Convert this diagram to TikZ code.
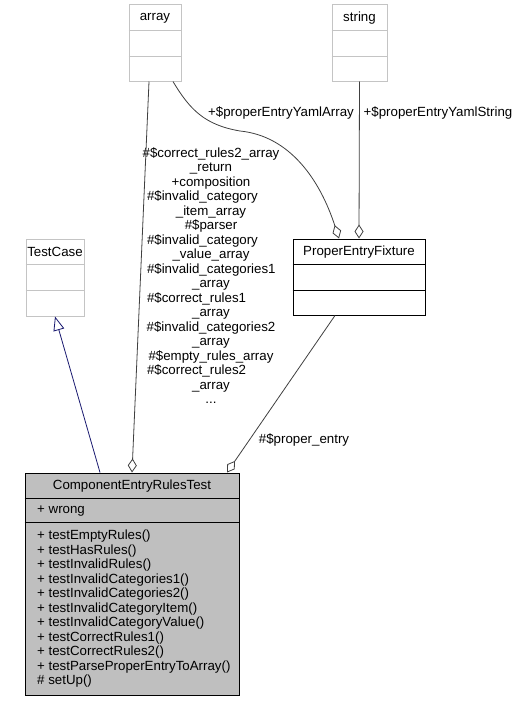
\documentclass[tikz,border=0pt]{standalone}
\usepackage{fontspec}
\setmainfont{Liberation Sans}
\usetikzlibrary{arrows.meta}
\definecolor{edgegray}{HTML}{404040}
\definecolor{boxgray}{HTML}{BFBFBF}
\definecolor{extgray}{HTML}{C4C4C4}
\definecolor{navyblue}{HTML}{191970}
\begin{document}
\begin{tikzpicture}[x=1pt,y=-1pt,
  font=\fontsize{13.3}{14.5}\selectfont,
  extbox/.style={draw=extgray, line width=1pt, fill=white, inner sep=0pt},
  classbox/.style={draw=black, line width=1pt, fill=white, inner sep=0pt},
  certbox/.style={draw=black, line width=1pt, fill=boxgray, inner sep=0pt},
  txt/.style={inner sep=0pt},
  aggr/.style={draw=edgegray, line width=0.8pt, -{Diamond[open,length=14pt,width=9pt,fill=white]}},
  inh/.style={draw=navyblue, line width=0.8pt, -{Triangle[open,length=14pt,width=11pt,fill=white]}},
  elabel/.style={inner sep=0pt, align=center, text=black}
]
\useasboundingbox (0,0) rectangle (515,701);
\fill[white] (0,0) rectangle (515,701);

% array
\node[extbox, minimum width=52pt, minimum height=76pt] (arr) at (155,43) {};
\draw[extgray, line width=1pt] (arr.west |- 0,31) -- (arr.east |- 0,31);
\draw[extgray, line width=1pt] (arr.west |- 0,57) -- (arr.east |- 0,57);
\node[txt] (arrT) at (155,18) {array};

% string
\node[extbox, minimum width=55pt, minimum height=76pt] (str) at (359.5,43) {};
\draw[extgray, line width=1pt] (str.west |- 0,31) -- (str.east |- 0,31);
\draw[extgray, line width=1pt] (str.west |- 0,57) -- (str.east |- 0,57);
\node[txt] (strT) at (359.5,18) {string};

% TestCase
\node[extbox, minimum width=58pt, minimum height=77pt] (tc) at (55,277.5) {};
\draw[extgray, line width=1pt] (tc.west |- 0,264) -- (tc.east |- 0,264);
\draw[extgray, line width=1pt] (tc.west |- 0,290) -- (tc.east |- 0,290);
\node[txt] (tcT) at (55,252) {TestCase};

% ProperEntryFixture
\node[classbox, minimum width=132pt, minimum height=76pt] (pef) at (359,277) {};
\draw[black, line width=1pt] (pef.west |- 0,264) -- (pef.east |- 0,264);
\draw[black, line width=1pt] (pef.west |- 0,290) -- (pef.east |- 0,290);
\node[txt] (pefT) at (359,252) {ProperEntryFixture};

% ComponentEntryRulesTest
\node[certbox, minimum width=214pt, minimum height=222pt] (cert) at (132,584) {};
\draw[black, line width=1pt] (cert.west |- 0,498) -- (cert.east |- 0,498);
\draw[black, line width=1pt] (cert.west |- 0,522) -- (cert.east |- 0,522);
\node[txt] (certT) at (132,486) {ComponentEntryRulesTest};
\node[txt, anchor=west] (certA) at (37,511) {+ wrong};
\node[txt, anchor=north west, align=left] (certM) at (37,530)
 {+ testEmptyRules()\\
  + testHasRules()\\
  + testInvalidRules()\\
  + testInvalidCategories1()\\
  + testInvalidCategories2()\\
  + testInvalidCategoryItem()\\
  + testInvalidCategoryValue()\\
  + testCorrectRules1()\\
  + testCorrectRules2()\\
  + testParseProperEntryToArray()\\
  \# setUp()};

% edges
\draw[inh] ([xshift=-32pt]cert.north) -- (tc.south);
\draw[aggr] ([xshift=-6pt]arr.south) -- (cert.north);
\draw[aggr] ([xshift=-24pt]pef.south) -- ([xshift=95pt]cert.north);
\draw[aggr] (str.south) -- (pef.north);
\draw[aggr] ([xshift=18pt]arr.south) .. controls (190,110) and (205,125) .. (240,131)
   .. controls (290,136) and (320,180) .. ([xshift=-20pt]pef.north);

% edge labels
\node[elabel] (lblArr) at (281,113) {+\$properEntryYamlArray};
\node[elabel] (lblStr) at (438,113) {+\$properEntryYamlString};
\node[elabel] (lblPE) at (304,440) {\#\$proper\_entry};
\node[elabel, anchor=north] (lblComp) at (211,147)
 {\#\$correct\_rules2\_array\\
  \_return\\
  +composition\\
  \makebox[128pt][l]{\#\$invalid\_category}\\
  \_item\_array\\
  \#\$parser\\
  \makebox[128pt][l]{\#\$invalid\_category}\\
  \_value\_array\\
  \makebox[128pt][l]{\#\$invalid\_categories1}\\
  \_array\\
  \makebox[128pt][l]{\#\$correct\_rules1}\\
  \_array\\
  \#\$invalid\_categories2\\
  \_array\\
  \#\$empty\_rules\_array\\
  \makebox[128pt][l]{\#\$correct\_rules2}\\
  \_array\\
  ...};
\end{tikzpicture}
\end{document}
